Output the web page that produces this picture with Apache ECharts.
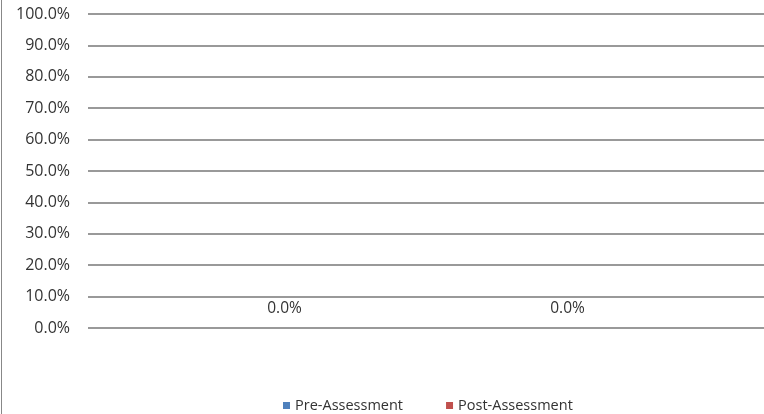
<!DOCTYPE html>
<html><head><meta charset="utf-8">
<script src="https://cdn.jsdelivr.net/npm/echarts@6/dist/echarts.min.js"></script>
<style>html,body{margin:0;padding:0;background:#fff}#c{width:764px;height:414px}</style>
</head><body><div id="c"></div>
<script>
var categories = [''];
var seriesNames = ['Pre-Assessment', 'Post-Assessment'];
var preValues = [0];
var postValues = [0];
var yTicks = [0, 0.1, 0.2, 0.3, 0.4, 0.5, 0.6, 0.7, 0.8, 0.9, 1.0];

var chart = echarts.init(document.getElementById('c'));
var fontFam = '"Open Sans", "DejaVu Sans", sans-serif';
function pct(v){ return (v*100).toFixed(1) + '%'; }
chart.setOption({
  animation: false,
  textStyle: {fontFamily: fontFam},
  grid: {left: 88, right: 0, top: 14, bottom: 86},
  graphic: [{type: 'line', shape: {x1: 1.5, y1: 0, x2: 1.5, y2: 414}, style: {stroke: '#888', lineWidth: 1}}],
  legend: {
    top: 393, left: 278, icon: 'rect', itemWidth: 7, itemHeight: 7, itemGap: 43,
    textStyle: {fontFamily: fontFam, fontSize: 14.5, color: '#333'},
    data: seriesNames
  },
  xAxis: {
    type: 'category', data: categories,
    axisLine: {show: false}, axisTick: {show: false}, axisLabel: {show: false}
  },
  yAxis: {
    type: 'value', min: yTicks[0], max: yTicks[yTicks.length-1], interval: 0.1,
    axisLine: {show: false}, axisTick: {show: false},
    axisLabel: {formatter: pct, margin: 18, color: '#333', fontSize: 16, fontFamily: fontFam},
    splitLine: {lineStyle: {color: '#999', width: 1.8}}
  },
  series: [
    {name: seriesNames[0], type: 'bar', data: preValues, barWidth: 100, barGap: '183%',
     itemStyle: {color: '#4F81BD'},
     label: {show: true, position: 'top', distance: 11, formatter: function(p){return pct(p.value);}, color: '#333', fontSize: 15.5, fontFamily: fontFam}},
    {name: seriesNames[1], type: 'bar', data: postValues, barWidth: 100,
     itemStyle: {color: '#C0504D'},
     label: {show: true, position: 'top', distance: 11, formatter: function(p){return pct(p.value);}, color: '#333', fontSize: 15.5, fontFamily: fontFam}}
  ]
});
</script></body></html>
